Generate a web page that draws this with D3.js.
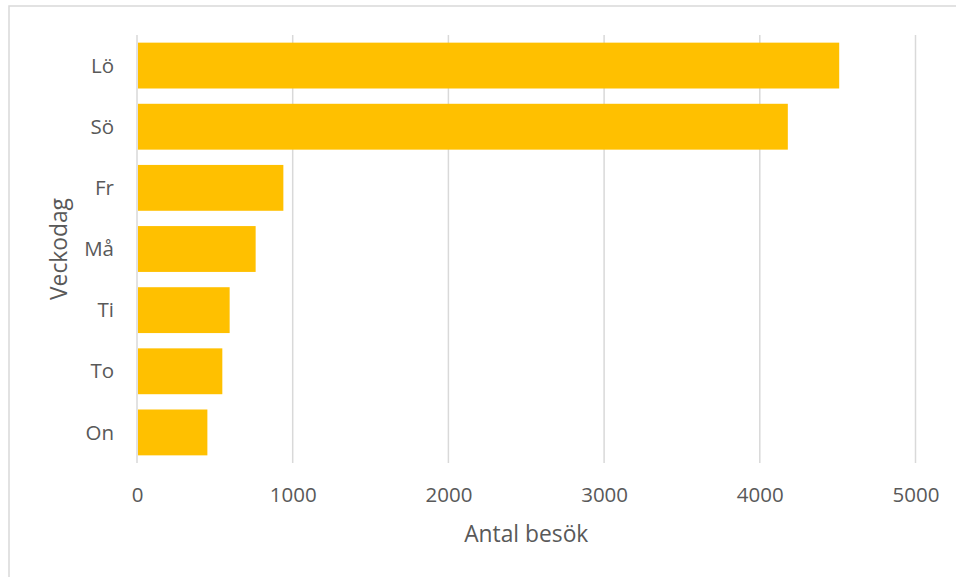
<!DOCTYPE html>
<html><head><meta charset="utf-8">
<script src="https://cdn.jsdelivr.net/npm/d3@7"></script>
<style>html,body{margin:0;padding:0;background:#fff;}svg{display:block;}</style>
</head><body>
<svg id="chart" width="956" height="577"></svg>
<script>
const days = ["Lö", "Sö", "Fr", "Må", "Ti", "To", "On"];
const visits = [4510, 4180, 940, 762, 595, 548, 452];
const xTicks = [0, 1000, 2000, 3000, 4000, 5000];
const xTitle = "Antal besök";
const yTitle = "Veckodag";

(function () {
const svg = d3.select("#chart");
const font = "'Open Sans', sans-serif";
const textColor = "#595959";

// outer chart border (left and top visible)
svg.append("rect").attr("x", 9).attr("y", 6).attr("width", 1000).attr("height", 1000)
  .attr("fill", "none").attr("stroke", "#d9d9d9").attr("stroke-width", 1.5);

const mLeft = 137, mRight = 915.5, mTop = 35, mBottom = 463;
const x = d3.scaleLinear().domain([0, 5000]).range([mLeft, mRight]);
const y = d3.scaleBand().domain(days).range([mTop, mBottom]).paddingInner(0.25).paddingOuter(0.125);

// gridlines
svg.append("g").selectAll("line").data(xTicks).join("line")
  .attr("x1", d => x(d)).attr("x2", d => x(d))
  .attr("y1", mTop).attr("y2", mBottom)
  .attr("stroke", "#d9d9d9").attr("stroke-width", 1.5);

// bars
svg.append("g").selectAll("rect").data(days).join("rect")
  .attr("x", x(0) + 1)
  .attr("y", d => y(d))
  .attr("width", (d, i) => x(visits[i]) - x(0) - 1)
  .attr("height", y.bandwidth())
  .attr("fill", "#FFC000");

// x axis
const xAxis = d3.axisBottom(x).tickValues(xTicks).tickSize(0).tickPadding(0).tickFormat(d3.format("d"));
const gx = svg.append("g").attr("transform", `translate(0,${mBottom})`).call(xAxis);
gx.select(".domain").remove();
gx.selectAll("text").attr("dy", null).attr("y", 39)
  .attr("font-family", font).attr("font-size", 20.5).attr("fill", textColor);

// y axis
const yAxis = d3.axisLeft(y).tickSize(0).tickPadding(0);
const gy = svg.append("g").attr("transform", `translate(114,0)`).call(yAxis);
gy.select(".domain").remove();
gy.selectAll("text").attr("dy", "0.35em")
  .attr("font-family", font).attr("font-size", 20.5).attr("fill", textColor);

// axis titles
svg.append("text").attr("x", (mLeft + mRight) / 2).attr("y", 542)
  .attr("text-anchor", "middle").attr("font-family", font).attr("font-size", 22.8)
  .attr("fill", textColor).text(xTitle);

svg.append("text").attr("transform", `translate(67,${(mTop + mBottom) / 2}) rotate(-90)`)
  .attr("text-anchor", "middle").attr("font-family", font).attr("font-size", 22.8)
  .attr("fill", textColor).text(yTitle);
})();
</script>
</body></html>
